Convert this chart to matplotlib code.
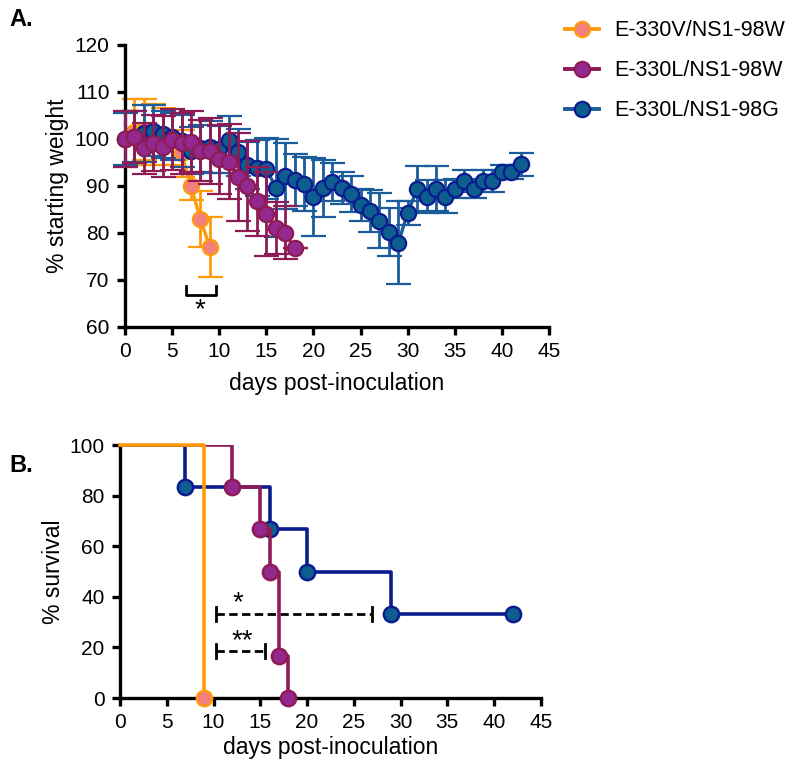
import matplotlib
matplotlib.use("Agg")
import matplotlib.pyplot as plt
from matplotlib.lines import Line2D

plt.rcParams['font.family'] = ['Liberation Sans', 'DejaVu Sans']

# ---- panel A: weight loss ----
days_v = list(range(0, 10))
wt_v = [100, 101.5, 102, 101, 100.5, 100, 97, 90, 83, 77]
sd_v = [6, 7, 6.5, 6.5, 6, 5.5, 5, 3, 6, 6.3]

days_lw = list(range(0, 19))
wt_lw = [100, 100.4, 98, 99.2, 98.4, 99.8, 99.1, 99.4, 97.5, 97.5,
         95.7, 95.2, 91.9, 90, 86.7, 84, 81, 80.1, 76.7]
sd_lw = [6, 5.5, 5.5, 6, 6.5, 6.5, 6.5, 6.5, 6.5, 7,
         7.3, 8, 9.4, 9.5, 7.3, 9, 5.5, 5.6, 0]

days_lg = list(range(0, 43))
wt_lg = [100, 100.5, 101.2, 101.8, 101, 100.5, 99.5, 97.5, 98, 98.3,
         97.8, 99.8, 97.2, 94.4, 93.8, 93.7, 89.6, 92.1, 91.3, 90.4,
         87.7, 89.5, 90.8, 89.5, 88.3, 86.0, 84.7, 82.6, 80.2, 77.9,
         84.2, 89.4, 87.7, 89.4, 87.7, 89.4, 91.1, 89.4, 91.1, 91.1,
         92.9, 92.9, 94.6]
sd_lg = [5.5, 5.5, 6, 5.5, 5, 5, 5.5, 5, 5, 5.5,
         5, 5, 5, 5, 6, 6.5, 10.5, 7, 5.5, 5.7,
         8.3, 6, 4, 3.4, 3.9, 3.4, 4.5, 5.9, 5.2, 8.8,
         2.6, 4.8, 3.5, 4.8, 3.5, 2, 2.4, 2, 2.4, 2.4,
         1.5, 1.5, 2.4]

# ---- panel B: survival ----
surv_v_t = [0, 9, 9]
surv_v = [100, 100, 0]
surv_v_mk_t = [9]
surv_v_mk = [0]

surv_lw_t = [0, 12, 15, 16, 17, 18]
surv_lw = [100, 83.3, 66.7, 50, 16.7, 0]

surv_lg_t = [0, 7, 16, 20, 29, 42]
surv_lg = [100, 83.3, 66.7, 50, 33.3, 33.3]

labels = ['E-330V/NS1-98W', 'E-330L/NS1-98W', 'E-330L/NS1-98G']

orange = '#FF9A0A'
orange_face = '#F4807E'
maroon = '#8E1B55'
purple_face = '#93288E'
blue = '#1B5C9B'
blue_face = '#0D5D8E'
navy = '#0A1C90'

fig = plt.figure(figsize=(8, 7.73), dpi=100)
axA = fig.add_axes([0.15625, 0.577, 0.53, 0.3648])
axB = fig.add_axes([0.15, 0.097, 0.526, 0.327])


def style(ax):
    for s in ['top', 'right']:
        ax.spines[s].set_visible(False)
    for s in ['left', 'bottom']:
        ax.spines[s].set_linewidth(2.4)
    ax.tick_params(width=2.4, length=6, labelsize=15, direction='out', pad=5)


eb = dict(fmt='-o', lw=2.4, elinewidth=2, capsize=9, capthick=2, ms=11,
          mew=1.6, clip_on=False)
axA.errorbar(days_v, wt_v, yerr=sd_v, color=orange, mfc=orange_face, mec=orange,
             zorder=2, **eb)
axA.errorbar(days_lg, wt_lg, yerr=sd_lg, color=blue, mfc=blue_face, mec=navy,
             zorder=3, **eb)
axA.errorbar(days_lw, wt_lw, yerr=sd_lw, color=maroon, mfc=purple_face, mec=maroon,
             zorder=4, **eb)

axA.set_xlim(0, 45)
axA.set_ylim(60, 120)
axA.set_xticks(range(0, 46, 5))
axA.set_yticks(range(60, 121, 10))
axA.set_xlabel('days post-inoculation', fontsize=16.5, labelpad=8)
axA.set_ylabel('% starting weight', fontsize=16.5, labelpad=4)
style(axA)

# significance bracket in A
axA.plot([6.5, 6.5, 9.7, 9.7], [68.7, 66.7, 66.7, 68.7], color='black', lw=2, clip_on=False)
axA.text(8.0, 63.6, '*', ha='center', va='center', fontsize=20)

# panel B
axB.plot(surv_lg_t, surv_lg, drawstyle='steps-post', color=navy, lw=2.6, zorder=2)
axB.plot(surv_lg_t[1:], surv_lg[1:], 'o', ms=11, mfc=blue_face, mec=navy, mew=1.8,
         zorder=3, clip_on=False)
axB.plot(surv_lw_t, surv_lw, drawstyle='steps-post', color=maroon, lw=2.6, zorder=4)
axB.plot(surv_lw_t[1:], surv_lw[1:], 'o', ms=11, mfc=purple_face, mec=maroon, mew=1.8,
         zorder=5, clip_on=False)
axB.plot(surv_v_t, surv_v, color=orange, lw=2.6, zorder=6, clip_on=False)
axB.plot(surv_v_mk_t, surv_v_mk, 'o', ms=11, mfc=orange_face, mec=orange, mew=1.8,
         zorder=7, clip_on=False)

axB.set_xlim(0, 45)
axB.set_ylim(0, 100)
axB.set_xticks(range(0, 46, 5))
axB.set_yticks(range(0, 101, 20))
axB.set_xlabel('days post-inoculation', fontsize=16.5, labelpad=3)
axB.set_ylabel('% survival', fontsize=16.5, labelpad=3)
style(axB)

# significance brackets in B
axB.plot([10.3, 26.9], [33.2, 33.2], color='black', lw=2, ls=(0, (3, 1.6)))
axB.plot([10.3, 10.3], [30.5, 35.9], color='black', lw=2)
axB.plot([26.9, 26.9], [30.5, 35.9], color='black', lw=2)
axB.text(12.6, 37.5, '*', ha='center', va='center', fontsize=20)
axB.plot([10.3, 15.5], [18.7, 18.7], color='black', lw=2, ls=(0, (3, 1.6)))
axB.plot([10.3, 10.3], [16.0, 21.4], color='black', lw=2)
axB.plot([15.5, 15.5], [16.0, 21.4], color='black', lw=2)
axB.text(13.1, 22.5, '**', ha='center', va='center', fontsize=20)

fig.text(0.012, 0.975, 'A.', fontsize=17, fontweight='bold', va='center')
fig.text(0.012, 0.398, 'B.', fontsize=17, fontweight='bold', va='center')

handles = [
    Line2D([], [], color=orange, lw=2.8, marker='o', ms=11, mfc=orange_face, mec=orange, mew=1.6),
    Line2D([], [], color=maroon, lw=2.8, marker='o', ms=11, mfc=purple_face, mec=maroon, mew=1.6),
    Line2D([], [], color=blue, lw=2.8, marker='o', ms=11, mfc=blue_face, mec=navy, mew=1.6),
]
fig.legend(handles, labels, loc='upper left', bbox_to_anchor=(0.687, 0.993),
           frameon=False, fontsize=15.5, handlelength=1.6, labelspacing=0.88,
           handletextpad=0.7, borderaxespad=0.3)

fig.savefig('out.png', dpi=100)
